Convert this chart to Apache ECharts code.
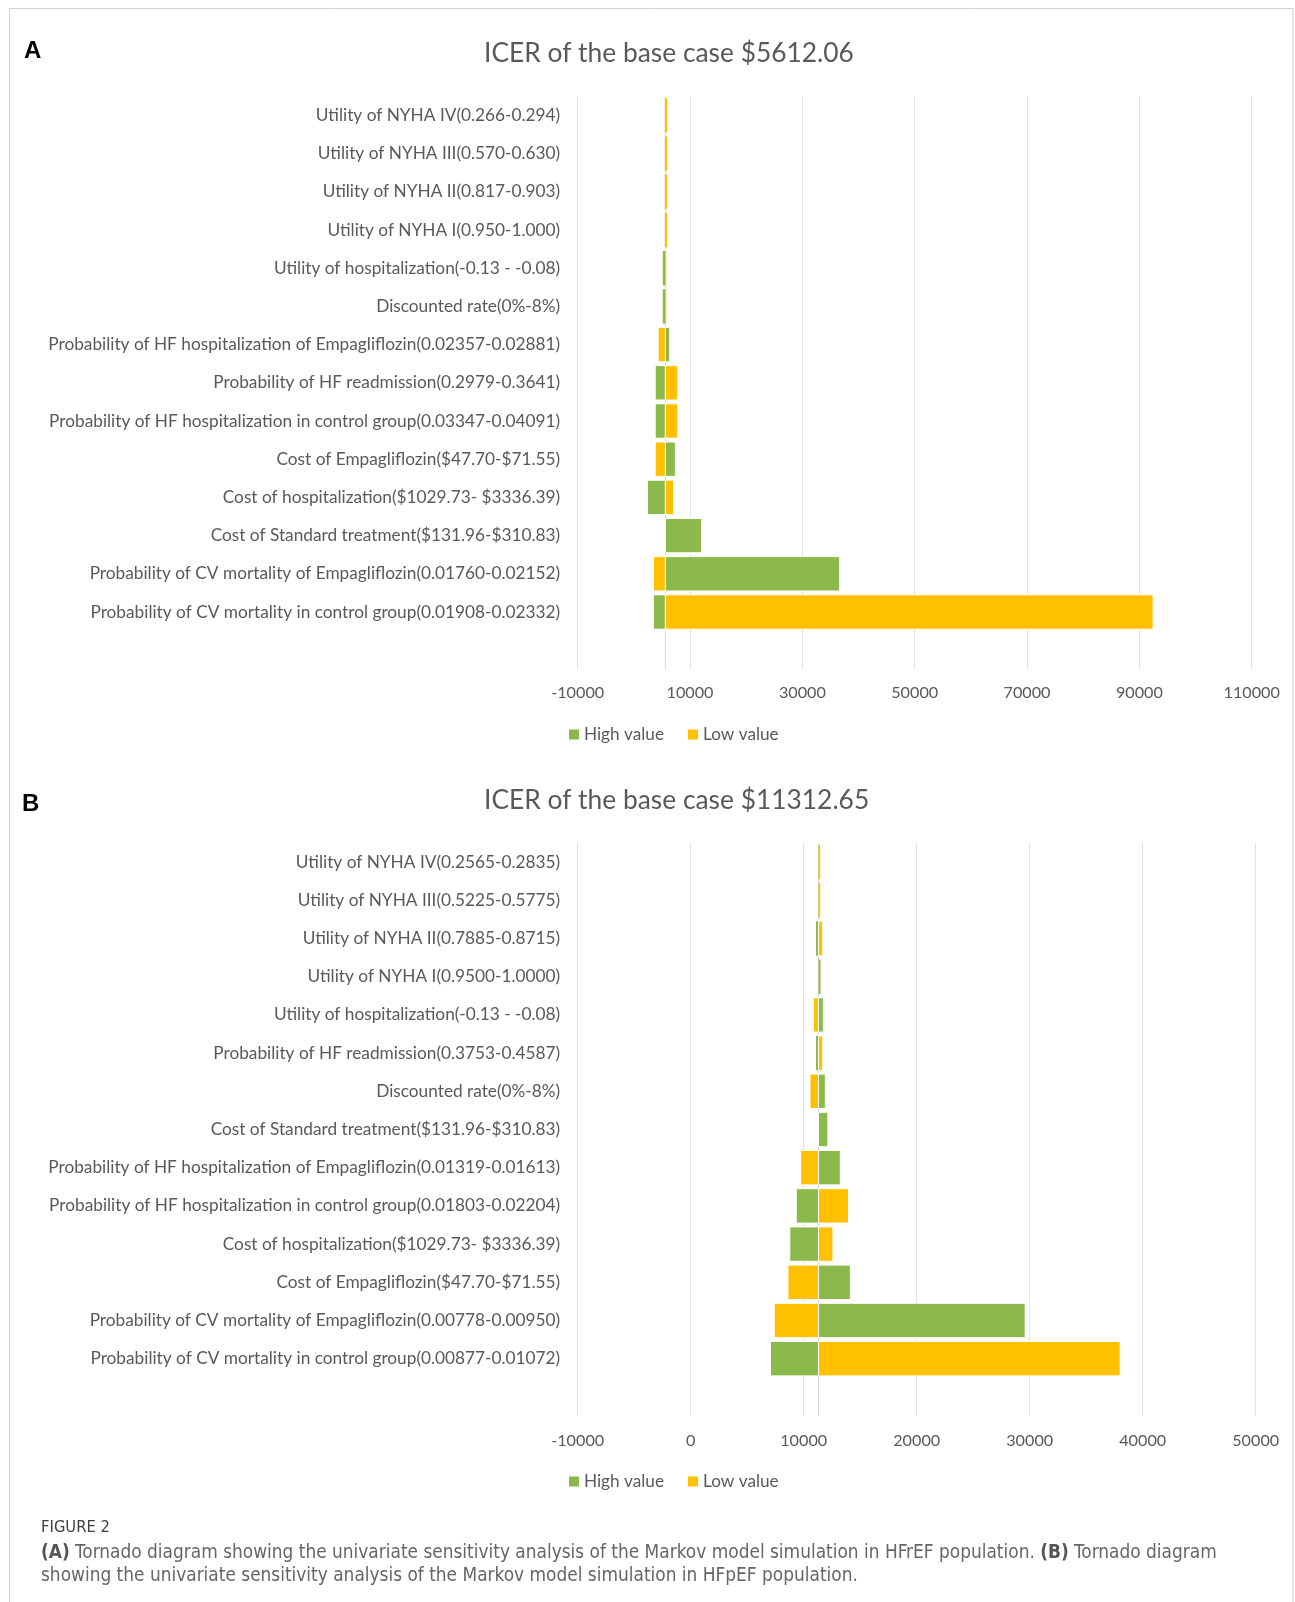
<!DOCTYPE html>
<html><head><meta charset="utf-8">
<script src="https://cdn.jsdelivr.net/npm/echarts@6/dist/echarts.min.js"></script>
<style>html,body{margin:0;padding:0;background:#fff}#c{width:1295px;height:1602px}</style>
</head><body><div id="c"></div>
<script>
// ---------- DATA ----------
const categoriesA = [
  'Utility of NYHA IV(0.266-0.294)',
  'Utility of NYHA III(0.570-0.630)',
  'Utility of NYHA II(0.817-0.903)',
  'Utility of NYHA I(0.950-1.000)',
  'Utility of hospitalization(-0.13 - -0.08)',
  'Discounted rate(0%-8%)',
  'Probability of HF hospitalization of Empagliflozin(0.02357-0.02881)',
  'Probability of HF readmission(0.2979-0.3641)',
  'Probability of HF hospitalization in control group(0.03347-0.04091)',
  'Cost of Empagliflozin($47.70-$71.55)',
  'Cost of hospitalization($1029.73- $3336.39)',
  'Cost of Standard treatment($131.96-$310.83)',
  'Probability of CV mortality of Empagliflozin(0.01760-0.02152)',
  'Probability of CV mortality in control group(0.01908-0.02332)'
];
const baseA = 5612.06;
const highA = [5520, 5520, 5520, 5520, 5150, 5150, 6342, 3796, 3796, 7388, 2408, 12041, 36612, 3469];
const lowA  = [5930, 5930, 5930, 5930, 5760, 5760, 4330, 7796, 7796, 3796, 7061, 5612.06, 3469, 92449];
const axisA = { min: -10000, max: 110000, interval: 20000 };

const categoriesB = [
  'Utility of NYHA IV(0.2565-0.2835)',
  'Utility of NYHA III(0.5225-0.5775)',
  'Utility of NYHA II(0.7885-0.8715)',
  'Utility of NYHA I(0.9500-1.0000)',
  'Utility of hospitalization(-0.13 - -0.08)',
  'Probability of HF readmission(0.3753-0.4587)',
  'Discounted rate(0%-8%)',
  'Cost of Standard treatment($131.96-$310.83)',
  'Probability of HF hospitalization of Empagliflozin(0.01319-0.01613)',
  'Probability of HF hospitalization in control group(0.01803-0.02204)',
  'Cost of hospitalization($1029.73- $3336.39)',
  'Cost of Empagliflozin($47.70-$71.55)',
  'Probability of CV mortality of Empagliflozin(0.00778-0.00950)',
  'Probability of CV mortality in control group(0.00877-0.01072)'
];
const baseB = 11312.65;
const highB = [11290, 11290, 11090, 11490, 11737, 11090, 11915, 12140, 13240, 9340, 8770, 14130, 29600, 7060];
const lowB  = [11460, 11460, 11685, 11312.65, 10850, 11685, 10560, 11312.65, 9740, 13970, 12590, 8610, 7390, 38000];
const axisB = { min: -10000, max: 50000, interval: 10000 };

const seriesNames = ['High value', 'Low value'];
const titleA = 'ICER of the base case $5612.06';
const titleB = 'ICER of the base case $11312.65';
const captionHead = 'FIGURE 2';
const captionLine1 = '{b|(A)} Tornado diagram showing the univariate sensitivity analysis of the Markov model simulation in HFrEF population. {b|(B)} Tornado diagram';
const captionLine2 = 'showing the univariate sensitivity analysis of the Markov model simulation in HFpEF population.';

// ---------- STYLE HELPERS ----------
const GREEN = '#8cb94c', YELLOW = '#ffc000', GREY = '#595959';
const ctx = document.createElement('canvas').getContext('2d');
function hasFont(f) {
  const s = 'abcdefghijklmnopqrstuvwxyz0123456789ABCDEF';
  ctx.font = '72px monospace'; const w1 = ctx.measureText(s).width;
  ctx.font = '72px "' + f + '", monospace'; return ctx.measureText(s).width !== w1;
}
function fit(text, family, weight, target) {
  ctx.font = weight + ' 100px ' + family;
  return 100 * target / ctx.measureText(text).width;
}
const F = '"Lato", "Noto Sans", sans-serif';
const narrow = ['Liberation Sans Narrow', 'DejaVu Sans Condensed', 'Roboto Condensed', 'Open Sans Condensed'].find(hasFont);
const CF = narrow ? '"' + narrow + '", "Lato", sans-serif' : '"Lato", sans-serif';
const catSize = fit('Probability of HF hospitalization of Empagliflozin(0.02357-0.02881)', F, 'normal', 512);
const tickSize = fit('-10000', F, 'normal', 53);
const titleSize = fit(titleA, F, 'normal', 370);
const legSize = fit('High value', F, 'normal', 80);
const headSize = fit(captionHead, CF, 'normal', 69);
const capSize = fit(captionLine1.replace(/\{b\|/g, '').replace(/\}/g, ''), CF, 'normal', 1169);

// ---------- LAYOUT ----------
const gridA = { left: 577.7, top: 96.3, width: 674, height: 573 };
const gridB = { left: 577.7, top: 843, width: 678, height: 573 };

function barRender(params, api) {
  const yi = api.value(0);
  const p0 = api.coord([api.value(1), yi]);
  const p1 = api.coord([api.value(2), yi]);
  const h = api.size([0, 1])[1] * 0.9;
  const w = Math.abs(p1[0] - p0[0]);
  return {
    type: 'rect',
    shape: { x: Math.min(p0[0], p1[0]), y: p0[1] - h / 2, width: w, height: h },
    style: { fill: api.visual('color'), stroke: w > 4 ? '#ffffff' : null, lineWidth: 1 }
  };
}
function baseRender(params, api) {
  const cs = params.coordSys;
  const x = api.coord([api.value(0), 0])[0];
  return { type: 'line', shape: { x1: x, y1: cs.y, x2: x, y2: cs.y + cs.height },
           style: { stroke: '#d9d9d9', lineWidth: 1 } };
}
function barSeries(name, base, vals, idx, color, z) {
  return { type: 'custom', name, xAxisIndex: idx, yAxisIndex: idx,
    data: vals.map((v, i) => [i, base, v]), encode: { y: 0, x: [1, 2] },
    itemStyle: { color }, renderItem: barRender, z, silent: true };
}
function baseSeries(base, idx) {
  return { type: 'custom', xAxisIndex: idx, yAxisIndex: idx, data: [[base, 0]],
    encode: { x: 0, y: 1 }, renderItem: baseRender, z: 1, silent: true };
}
function xAxis(idx, ax, m) {
  return { type: 'value', gridIndex: idx, min: ax.min, max: ax.max, interval: ax.interval,
    axisLine: { show: false }, axisTick: { show: false },
    splitLine: { show: true, lineStyle: { color: '#e3e3e3', width: 1 } },
    axisLabel: { color: GREY, fontSize: tickSize, fontFamily: F, margin: m - tickSize * 0.6,
      formatter: v => String(v) } };
}
function yAxis(idx, cats) {
  return { type: 'category', gridIndex: idx, inverse: true, data: cats.concat(['']),
    axisLine: { show: false }, axisTick: { show: false }, splitLine: { show: false },
    axisLabel: { color: GREY, fontSize: catSize, fontFamily: F, margin: 17.5, interval: 0 } };
}
function legend(top) {
  return { data: seriesNames, left: 569, top: top, itemWidth: 10, itemHeight: 10, itemGap: 24,
    icon: 'rect', padding: 0, textStyle: { color: GREY, fontSize: legSize, fontFamily: F } };
}
function txt(x, y, text, size, weight, family, color, extra) {
  return { type: 'text', x, y, silent: true,
    style: Object.assign({ text, fontSize: size, fontWeight: weight, fontFamily: family, fill: color,
      textVerticalAlign: 'middle', textAlign: 'left' }, extra || {}) };
}

const chart = echarts.init(document.getElementById('c'), null, { renderer: 'canvas' });
chart.setOption({
  animation: false,
  backgroundColor: '#ffffff',
  grid: [gridA, gridB],
  xAxis: [xAxis(0, axisA, 25), xAxis(1, axisB, 26)],
  yAxis: [yAxis(0, categoriesA), yAxis(1, categoriesB)],
  legend: [legend(733 - 7), legend(1480 - 7)],
  series: [
    baseSeries(baseA, 0),
    barSeries(seriesNames[0], baseA, highA, 0, GREEN, 2),
    barSeries(seriesNames[1], baseA, lowA, 0, YELLOW, 3),
    baseSeries(baseB, 1),
    barSeries(seriesNames[0], baseB, highB, 1, GREEN, 2),
    barSeries(seriesNames[1], baseB, lowB, 1, YELLOW, 3)
  ],
  graphic: [
    { type: 'rect', shape: { x: 9.5, y: 8.5, width: 1283.5, height: 1620 }, silent: true,
      style: { fill: null, stroke: '#cfcfcf', lineWidth: 1 } },
    txt(24, 51, 'A', 24, 'bold', '"Liberation Sans", Arial, sans-serif', '#000'),
    txt(22, 804, 'B', 24, 'bold', '"Liberation Sans", Arial, sans-serif', '#000'),
    txt(484, 53, titleA, titleSize, 'normal', F, GREY),
    txt(484, 800, titleB, titleSize, 'normal', F, GREY),
    txt(41, 1528, captionHead, headSize, 'normal', CF, '#3f3f3f'),
    txt(41, 1553, captionLine1, capSize, 'normal', CF, '#666666',
      { rich: { b: { fontWeight: 'bold', fontSize: capSize, fontFamily: CF, fill: '#555555' } } }),
    txt(41, 1576, captionLine2, capSize, 'normal', CF, '#666666')
  ]
});
</script></body></html>
